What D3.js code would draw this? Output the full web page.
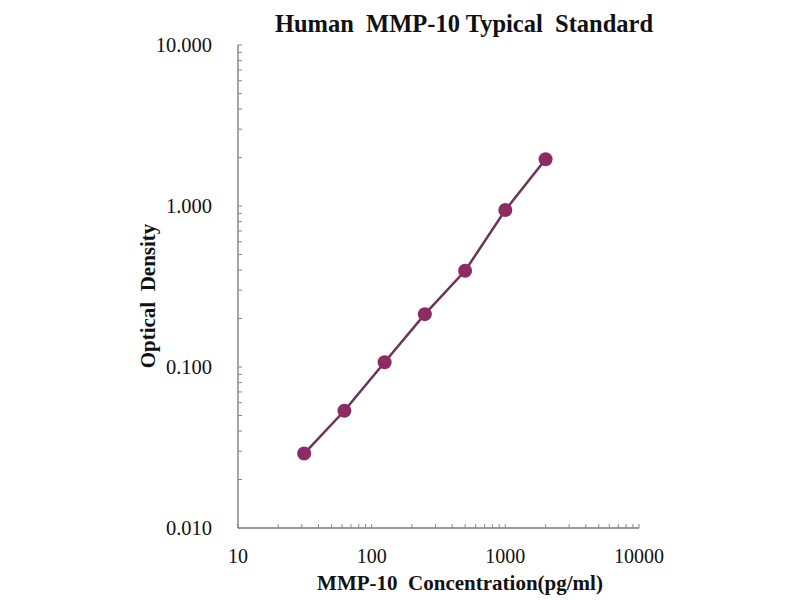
<!DOCTYPE html>
<html>
<head>
<meta charset="utf-8">
<script src="https://cdn.jsdelivr.net/npm/d3@7"></script>
<style>
  body { margin: 0; background: #fff; }
  text { font-family: "Liberation Serif", "Times New Roman", serif; fill: #111; }
</style>
</head>
<body>
<div id="chart-area"></div>
<script>
// DATA
var concentrations = [31.25, 62.5, 125, 250, 500, 1000, 2000];
var densities = [0.029, 0.0535, 0.107, 0.213, 0.396, 0.944, 1.95];
var xTicks = [10, 100, 1000, 10000];
var yTicks = [0.01, 0.1, 1, 10];

var margin = { left: 238, right: 161, top: 45, bottom: 72 };
var width = 800 - margin.left - margin.right,
	height = 600 - margin.top - margin.bottom;

var svg = d3.select("#chart-area")
	.append("svg")
	.attr("width", 800)
	.attr("height", 600);

var g = svg.append("g")
	.attr("transform", "translate(" + margin.left + "," + margin.top + ")");

// SCALES
var x = d3.scaleLog()
	.domain([10, 10000])
	.range([0, width]);

var y = d3.scaleLog()
	.domain([0.01, 10])
	.range([height, 0]);

// X AXIS
var xAxis = g.append("g")
	.attr("transform", "translate(0," + height + ")");
xAxis.append("line")
	.attr("x1", 0).attr("x2", width)
	.attr("stroke", "#777").attr("stroke-width", 1.3);
xAxis.selectAll(".minor")
	.data(x.ticks())
	.enter().append("line")
	.attr("x1", function (d) { return x(d); })
	.attr("x2", function (d) { return x(d); })
	.attr("y1", 0).attr("y2", -4)
	.attr("stroke", "#888");
xAxis.selectAll(".lbl")
	.data(xTicks)
	.enter().append("text")
	.attr("x", function (d) { return x(d); })
	.attr("y", 35)
	.attr("text-anchor", "middle")
	.attr("font-size", "20px")
	.text(function (d) { return d; });

// Y AXIS
var yAxis = g.append("g");
yAxis.append("line")
	.attr("y1", 0).attr("y2", height)
	.attr("stroke", "#777").attr("stroke-width", 1.3);
yAxis.selectAll(".minor")
	.data(y.ticks())
	.enter().append("line")
	.attr("y1", function (d) { return y(d); })
	.attr("y2", function (d) { return y(d); })
	.attr("x1", 0).attr("x2", 4)
	.attr("stroke", "#888");
yAxis.selectAll(".lbl")
	.data(yTicks)
	.enter().append("text")
	.attr("x", -26)
	.attr("y", function (d) { return y(d); })
	.attr("dy", "0.32em")
	.attr("text-anchor", "end")
	.attr("font-size", "20.5px")
	.text(function (v) { return d3.format(".3f")(v); });

// LINE
var points = concentrations.map(function (c, i) { return [c, densities[i]]; });
var line = d3.line()
	.x(function (d) { return x(d[0]); })
	.y(function (d) { return y(d[1]); });

g.append("path")
	.datum(points)
	.attr("d", line)
	.attr("fill", "none")
	.attr("stroke", "#6a3558")
	.attr("stroke-width", 2.5);

g.selectAll("circle")
	.data(points)
	.enter().append("circle")
	.attr("cx", function (d) { return x(d[0]); })
	.attr("cy", function (d) { return y(d[1]); })
	.attr("r", 7)
	.attr("fill", "#8e2b62");

// LABELS
svg.append("text")
	.attr("x", 464)
	.attr("y", 32)
	.attr("text-anchor", "middle")
	.attr("font-size", "24.5px")
	.attr("font-weight", "bold")
	.style("white-space", "pre")
	.text("Human  MMP-10 Typical  Standard");

svg.append("text")
	.attr("x", 460)
	.attr("y", 590)
	.attr("text-anchor", "middle")
	.attr("font-size", "21px")
	.attr("font-weight", "bold")
	.style("white-space", "pre")
	.text("MMP-10  Concentration(pg/ml)");

svg.append("text")
	.attr("transform", "translate(155,296) rotate(-90)")
	.attr("text-anchor", "middle")
	.attr("font-size", "21px")
	.attr("font-weight", "bold")
	.style("white-space", "pre")
	.text("Optical  Density");
</script>
</body>
</html>
